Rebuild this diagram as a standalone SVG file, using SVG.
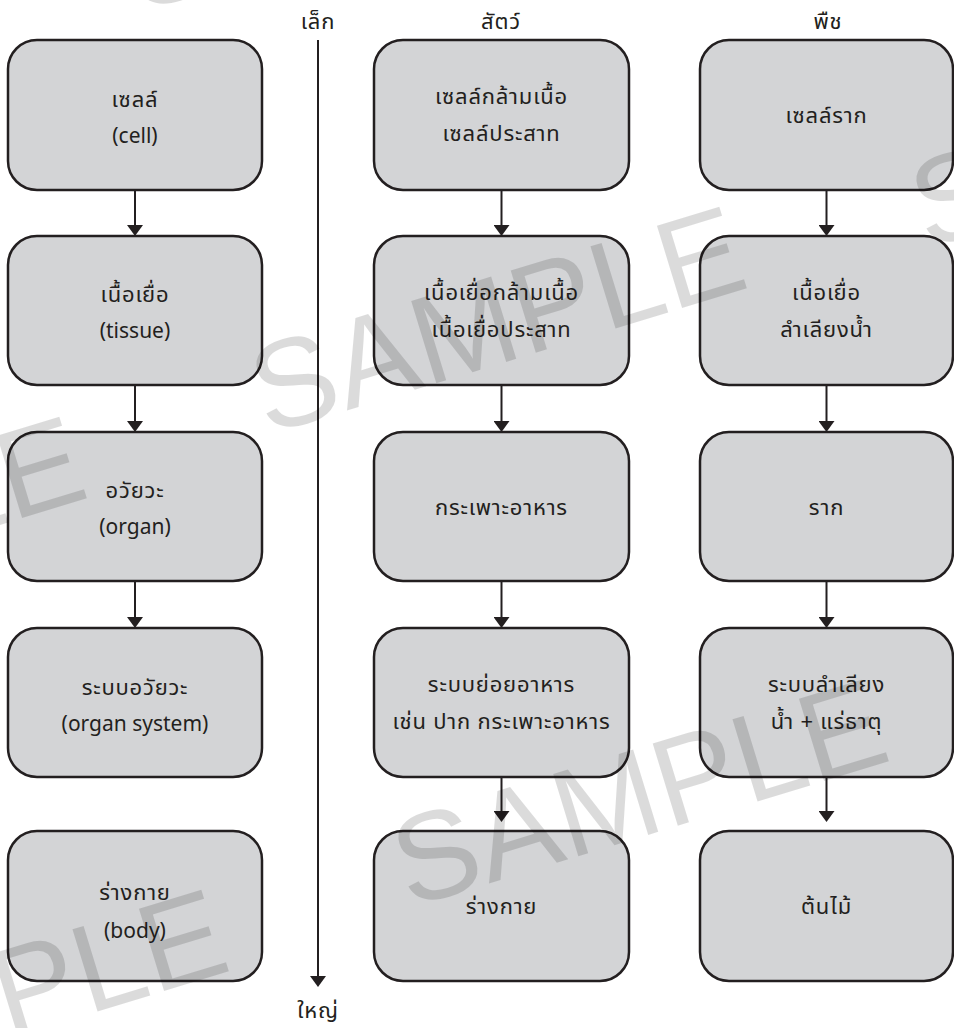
<svg xmlns="http://www.w3.org/2000/svg" width="954" height="1028" viewBox="0 0 954 1028">
<defs>
<style>
.box{fill:#d3d4d6;stroke:#231f20;stroke-width:2.5}
.t{font-family:'Noto Sans Thai','Noto Sans','DejaVu Sans',sans-serif;font-size:21px;fill:#231f20;text-anchor:middle}
.th{font-size:22px;letter-spacing:0.8px}
.con{stroke:#231f20;stroke-width:2;fill:none}
.wm{font-family:'Liberation Sans',Arial,sans-serif;font-size:125px;fill:#000;fill-opacity:0.14}
</style>
<marker id="ah" viewBox="0 0 11 16" refX="0" refY="8" markerWidth="11" markerHeight="16" markerUnits="userSpaceOnUse" orient="auto">
<path d="M0,0 L11,8 L0,16 z" fill="#231f20"/>
</marker>
</defs>
<rect width="954" height="1028" fill="#fff"/>

<g id="labels">
<text class="t th" x="318" y="29">เล็ก</text>
<text class="t th" x="501" y="29">สัตว์</text>
<text class="t th" x="828" y="29">พืช</text>
<text class="t th" x="318" y="1018">ใหญ่</text>
</g>

<g id="connectors">
<line class="con" x1="318" y1="40" x2="318" y2="976" marker-end="url(#ah)"/>
<line class="con" x1="135" y1="190" x2="135" y2="225" marker-end="url(#ah)"/>
<line class="con" x1="135" y1="385" x2="135" y2="421" marker-end="url(#ah)"/>
<line class="con" x1="135" y1="581" x2="135" y2="617" marker-end="url(#ah)"/>
<line class="con" x1="501.5" y1="190" x2="501.5" y2="225" marker-end="url(#ah)"/>
<line class="con" x1="501.5" y1="385" x2="501.5" y2="421" marker-end="url(#ah)"/>
<line class="con" x1="501.5" y1="581" x2="501.5" y2="617" marker-end="url(#ah)"/>
<line class="con" x1="501.5" y1="777" x2="501.5" y2="811" marker-end="url(#ah)"/>
<line class="con" x1="826.5" y1="190" x2="826.5" y2="225" marker-end="url(#ah)"/>
<line class="con" x1="826.5" y1="385" x2="826.5" y2="421" marker-end="url(#ah)"/>
<line class="con" x1="826.5" y1="581" x2="826.5" y2="617" marker-end="url(#ah)"/>
<line class="con" x1="826.5" y1="777" x2="826.5" y2="811" marker-end="url(#ah)"/>
</g>

<g id="n-cell">
<rect class="box" x="8" y="40" width="254" height="150" rx="29"/>
<text class="t th" x="135" y="107">เซลล์</text>
<text class="t" x="135" y="143">(cell)</text>
</g>
<g id="n-tissue">
<rect class="box" x="8" y="236" width="254" height="149" rx="29"/>
<text class="t th" x="135" y="302">เนื้อเยื่อ</text>
<text class="t" x="135" y="338">(tissue)</text>
</g>
<g id="n-organ">
<rect class="box" x="8" y="432" width="254" height="149" rx="29"/>
<text class="t th" x="135" y="498">อวัยวะ</text>
<text class="t" x="135" y="534">(organ)</text>
</g>
<g id="n-organ-system">
<rect class="box" x="8" y="628" width="254" height="149" rx="29"/>
<text class="t th" x="135" y="695">ระบบอวัยวะ</text>
<text class="t" x="135" y="731">(organ system)</text>
</g>
<g id="n-body">
<rect class="box" x="8" y="831" width="254" height="150" rx="29"/>
<text class="t th" x="135" y="900">ร่างกาย</text>
<text class="t" x="135" y="938">(body)</text>
</g>

<g id="a-cell">
<rect class="box" x="374" y="40" width="255" height="150" rx="29"/>
<text class="t th" x="501.5" y="104">เซลล์กล้ามเนื้อ</text>
<text class="t th" x="501.5" y="141">เซลล์ประสาท</text>
</g>
<g id="a-tissue">
<rect class="box" x="374" y="236" width="255" height="149" rx="29"/>
<text class="t th" x="501.5" y="300">เนื้อเยื่อกล้ามเนื้อ</text>
<text class="t th" x="501.5" y="337">เนื้อเยื่อประสาท</text>
</g>
<g id="a-organ">
<rect class="box" x="374" y="432" width="255" height="149" rx="29"/>
<text class="t th" x="501.5" y="515">กระเพาะอาหาร</text>
</g>
<g id="a-system">
<rect class="box" x="374" y="628" width="255" height="149" rx="29"/>
<text class="t th" x="501.5" y="692">ระบบย่อยอาหาร</text>
<text class="t th" x="501.5" y="729">เช่น ปาก กระเพาะอาหาร</text>
</g>
<g id="a-body">
<rect class="box" x="374" y="831" width="255" height="150" rx="29"/>
<text class="t th" x="501.5" y="914">ร่างกาย</text>
</g>

<g id="p-cell">
<rect class="box" x="700" y="40" width="253" height="150" rx="29"/>
<text class="t th" x="826.5" y="123">เซลล์ราก</text>
</g>
<g id="p-tissue">
<rect class="box" x="700" y="236" width="253" height="149" rx="29"/>
<text class="t th" x="826.5" y="300">เนื้อเยื่อ</text>
<text class="t th" x="826.5" y="337">ลำเลียงน้ำ</text>
</g>
<g id="p-organ">
<rect class="box" x="700" y="432" width="253" height="149" rx="29"/>
<text class="t th" x="826.5" y="515">ราก</text>
</g>
<g id="p-system">
<rect class="box" x="700" y="628" width="253" height="149" rx="29"/>
<text class="t th" x="826.5" y="692">ระบบลำเลียง</text>
<text class="t th" x="826.5" y="729">น้ำ + แร่ธาตุ</text>
</g>
<g id="p-plant">
<rect class="box" x="700" y="831" width="253" height="150" rx="29"/>
<text class="t th" x="826.5" y="914">ต้นไม้</text>
</g>

<g id="watermark" class="wm">
<text transform="translate(267,435) rotate(-17)">SAMPLE</text>
<text transform="translate(409,908) rotate(-17)">SAMPLE</text>
<text transform="translate(-393,645) rotate(-17)">SAMPLE</text>
<text transform="translate(-251,1118) rotate(-17)">SAMPLE</text>
<text transform="translate(927,250) rotate(-17)">SAMPLE</text>
<text transform="translate(140,12) rotate(-17)">SAMPLE</text>
</g>
</svg>
